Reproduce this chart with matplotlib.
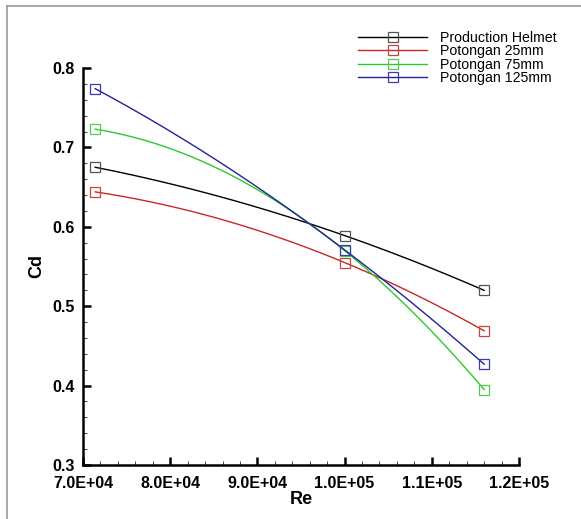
import numpy as np
import matplotlib
matplotlib.use('Agg')
import matplotlib.pyplot as plt
from matplotlib.lines import Line2D
from matplotlib.ticker import MultipleLocator, FuncFormatter

plt.rcParams['font.family'] = ['Liberation Sans', 'DejaVu Sans']

# Reynolds numbers of the test points
re_values = [71400, 100000, 116000]

# drag coefficient per configuration
cd_production = [0.675, 0.589, 0.520]
cd_25mm = [0.644, 0.555, 0.469]
cd_75mm = [0.723, 0.570, 0.395]
cd_125mm = [0.774, 0.571, 0.427]

labels = ['Production Helmet', 'Potongan 25mm', 'Potongan 75mm', 'Potongan 125mm']
line_colors = ['#000000', '#c82828', '#2ec82e', '#222299']
edge_colors = ['#555555', '#c84444', '#55cc55', '#3a3aaa']

fig = plt.figure(figsize=(5.81, 5.19), dpi=100)
ax = fig.add_axes([83 / 581, 54 / 519, 436 / 581, 397 / 519])

x = np.array(re_values, dtype=float)
xs = np.linspace(x[0], x[-1], 200)
handles = []
for cd, lc, ec, lab in zip([cd_production, cd_25mm, cd_75mm, cd_125mm],
                           line_colors, edge_colors, labels):
    # smooth curve through the three points (like Tecplot's spline fit)
    coef = np.polyfit(x / 1e5, cd, 2)
    ax.plot(xs, np.polyval(coef, xs / 1e5), color=lc, lw=1.0)
    ax.plot(x, cd, ls='none', marker='s', ms=7.3, mfc='none', mec=ec, mew=0.9)
    handles.append(Line2D([], [], color=lc, lw=1.0, marker='s', ms=7.3,
                          mfc='none', mec=ec, mew=0.9))

ax.set_xlim(70000, 120000)
ax.set_ylim(0.3, 0.8)
ax.xaxis.set_major_locator(MultipleLocator(10000))
ax.xaxis.set_minor_locator(MultipleLocator(2000))
ax.yaxis.set_major_locator(MultipleLocator(0.1))
ax.yaxis.set_minor_locator(MultipleLocator(0.02))
ax.xaxis.set_major_formatter(FuncFormatter(lambda v, p: f'{v:.1E}'))
ax.yaxis.set_major_formatter(FuncFormatter(lambda v, p: f'{v:.1f}'))

for s in ['top', 'right']:
    ax.spines[s].set_visible(False)
for s in ['left', 'bottom']:
    ax.spines[s].set_linewidth(1.8)
ax.tick_params(which='major', direction='in', length=5.5, width=1.8)
ax.tick_params(axis='x', which='major', pad=8)
ax.tick_params(axis='y', which='major', pad=6)
ax.tick_params(which='minor', direction='in', length=3, width=0.7, color='#444444')
for t in ax.get_xticklabels() + ax.get_yticklabels():
    t.set_fontsize(11.5)
    t.set_fontweight('bold')

ax.set_xlabel('Re', fontsize=13, fontweight='bold', labelpad=0)
ax.set_ylabel('Cd', fontsize=13, fontweight='bold', labelpad=5)

ax.legend(handles, labels, loc='upper left', bbox_to_anchor=(358 / 581, 1 - 31 / 519),
          bbox_transform=fig.transFigure, frameon=False, fontsize=10.2,
          handlelength=4.9, handletextpad=0.9, labelspacing=-0.05, borderpad=0,
          borderaxespad=0)

# gray frame edges of the original screenshot
fig.add_artist(Line2D([7 / 581, 7 / 581], [0, 1 - 6 / 519], color='#999999', lw=1.2))
fig.add_artist(Line2D([7 / 581, 1], [1 - 6 / 519, 1 - 6 / 519], color='#999999', lw=1.2))

fig.savefig('out.png', dpi=100)
